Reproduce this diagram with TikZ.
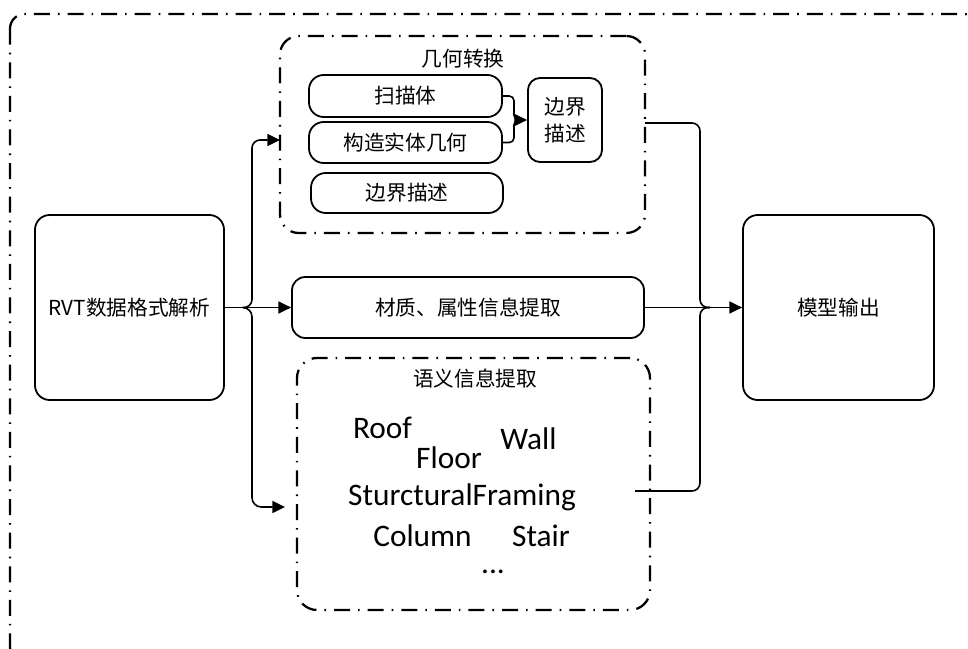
\documentclass[tikz,border=0pt]{standalone}
\usepackage{fontspec}
\setmainfont{Carlito}
\newfontfamily\cjk{Noto Sans CJK SC}
\usetikzlibrary{arrows.meta}
\begin{document}
\begin{tikzpicture}[x=0.75pt,y=-0.75pt,
  box/.style={draw, line width=1.35pt, rounded corners=11pt, inner sep=0pt, align=center,
              font=\cjk\fontsize{15.5}{20}\selectfont},
  dbox/.style={draw, line width=1.7pt, dash pattern=on 12pt off 6pt on 1.2pt off 6pt,
               rounded corners=14pt, inner sep=0pt},
  conn/.style={line width=1.2pt},
  arr/.style={line width=1.2pt, -{Triangle[length=9.5pt,width=9pt]}},
  word/.style={font=\fontsize{23.5}{28}\selectfont, inner sep=0pt, anchor=base},
  lab/.style={font=\cjk\fontsize{15.5}{20}\selectfont, inner sep=0pt}]
\useasboundingbox (0,0) rectangle (968,649);
% outer container
\draw[dbox, rounded corners=11pt] (10,14) rectangle (978,662);
% main boxes
\node[box, minimum width=141.75pt, minimum height=138.75pt] (rvt) at (129.5,307.5) {RVT数据格式解析};
\node[box, minimum width=143.25pt, minimum height=138.75pt] (mod) at (838.5,307.5) {模型输出};
% geometry group
\node[dbox, minimum width=273.75pt, minimum height=147.75pt] (geo) at (462.5,134.5) {};
\node[lab] (geolab) at (463,59) {几何转换};
\node[box, minimum width=144.75pt, minimum height=31.5pt] (sweep) at (405.5,96) {扫描体};
\node[box, minimum width=144.75pt, minimum height=30.75pt] (csg) at (405.5,142.5) {构造实体几何};
\node[box, minimum width=144pt, minimum height=30pt] (brep) at (407,193) {边界描述};
\node[box, rounded corners=9pt, minimum width=55.5pt, minimum height=63pt] (bd2) at (565,120) {边界\\描述};
% material
\node[box, rounded corners=10pt, minimum width=264pt, minimum height=45.75pt] (mat) at (468,307.5) {材质、属性信息提取};
% semantic group
\node[dbox, rounded corners=15pt, minimum width=264.75pt, minimum height=189pt] (sem) at (473.5,484) {};
\node[lab] (semlab) at (475,379) {语义信息提取};
\node[word] (roof) at (382.5,438) {Roof};
\node[word] (wall) at (528.5,449) {Wall};
\node[word] (floor) at (449,468) {Floor};
\node[word] (sf) at (462,505) {SturcturalFraming};
\node[word] (column) at (422.5,546) {Column};
\node[word] (stair) at (541,546) {Stair};
\node[word] (dots) at (493,573) {...};
% connector coordinates
\coordinate (lj) at (243,307.5);
\coordinate (ga) at (280,140);
\coordinate (sa) at (285,507);
\coordinate (gb) at (645,123);
\coordinate (sb) at (635,491);
\coordinate (rj) at (710,307.5);
\coordinate (ij) at (519,120);
% left side
\draw[arr] (rvt.east) -- (mat.west);
\draw[arr, rounded corners=6pt] (lj) -| (252,140) -- (ga);
\draw[arr, rounded corners=7pt] (lj) -| (252,507) -- (sa);
% right side
\draw[arr] (mat.east) -- (mod.west);
\draw[conn, rounded corners=6pt] (gb) -| (700,307.5) -- (rj);
\draw[conn, rounded corners=6pt] (sb) -| (700,307.5) -- (rj);
% inner brace
\draw[conn, rounded corners=3.5pt] (sweep.east) -| (514,120) -- (ij);
\draw[conn, rounded corners=3.5pt] (csg.east) -| (514,120) -- (ij);
\draw[arr] (ij) -- (bd2.west);
\end{tikzpicture}
\end{document}
